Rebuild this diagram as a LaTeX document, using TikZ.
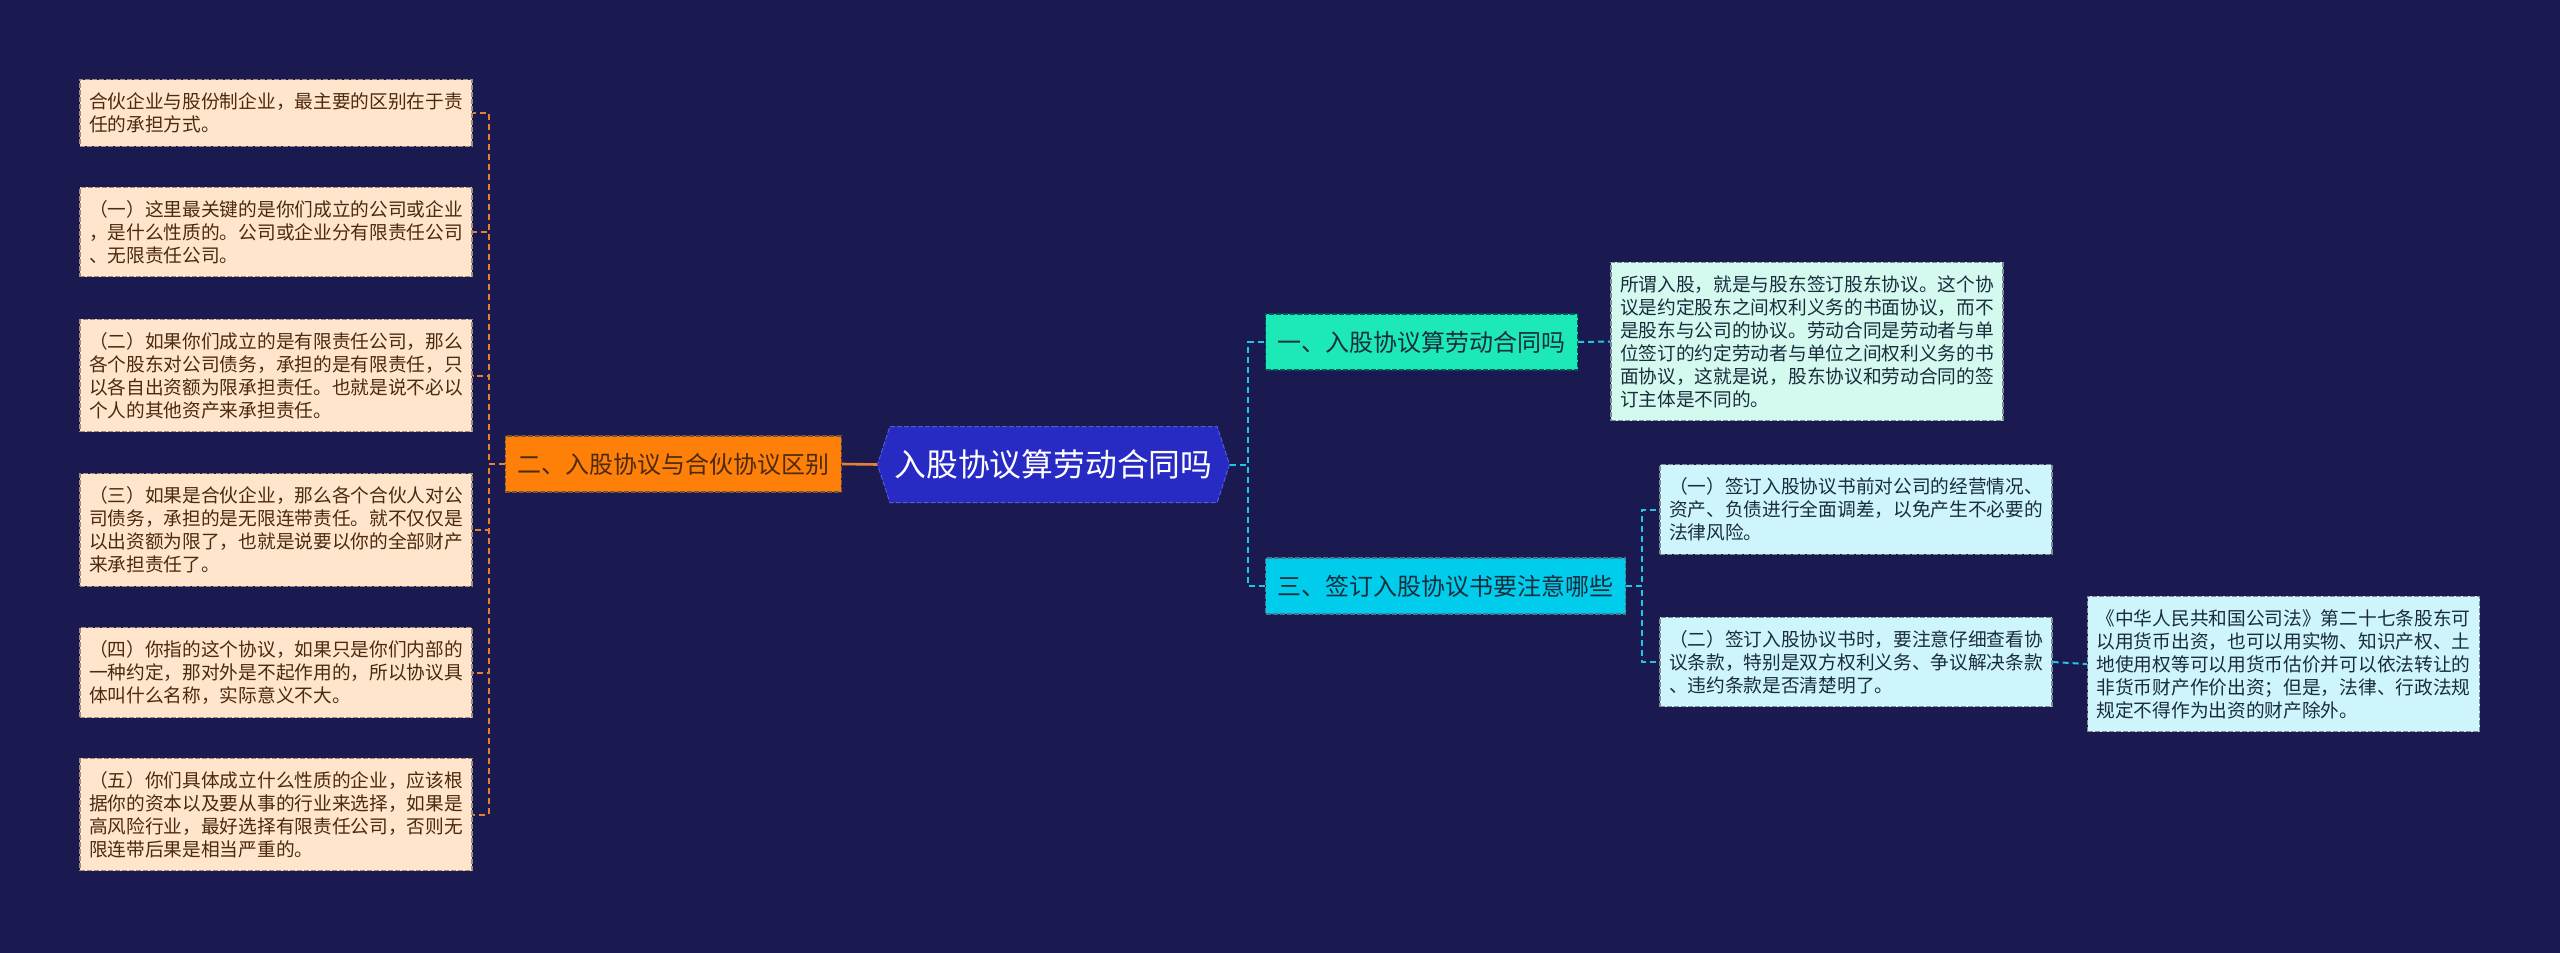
\documentclass[tikz,border=0pt]{standalone}
\usepackage{fontspec}
\setmainfont{Noto Sans CJK SC}
\usepackage{xcolor}
\usepackage{tikz}
\usetikzlibrary{shapes.symbols, calc}

\definecolor{bgnavy}{RGB}{27,26,80}
\definecolor{peach}{RGB}{255,229,204}
\definecolor{peachline}{RGB}{160,140,125}
\definecolor{brownink}{RGB}{75,42,15}
\definecolor{orangebranch}{RGB}{255,128,8}
\definecolor{orangelink}{RGB}{232,128,50}
\definecolor{rootblue}{RGB}{40,42,196}
\definecolor{rootline}{RGB}{80,90,220}
\definecolor{aquabranch}{RGB}{29,233,182}
\definecolor{cyanbranch}{RGB}{0,204,236}
\definecolor{aqualeaf}{RGB}{212,250,240}
\definecolor{cyanleaf}{RGB}{206,244,252}
\definecolor{leafline}{RGB}{125,140,150}
\definecolor{darkink}{RGB}{25,45,60}
\definecolor{cyanlink}{RGB}{30,200,228}

\tikzset{
    leafbase/.style={draw, rectangle, dash pattern=on 5pt off 2pt, line width=1.2pt, text width=374pt, inner xsep=9pt, inner ysep=13pt, align=left, font=\fontsize{18.7}{23}\selectfont},
    leftleaf/.style={leafbase, fill=peach, draw=peachline, text=brownink},
    rightleaf/.style={leafbase, fill=cyanleaf, draw=leafline, text=darkink},
    branch/.style={draw, rectangle, dash pattern=on 5pt off 2pt, line width=1.2pt, minimum height=56pt, inner xsep=12pt, font=\fontsize{24}{28}\selectfont},
    rootnode/.style={signal, signal to=west and east, signal pointer angle=144, fill=rootblue, draw=rootline, dash pattern=on 5pt off 2pt, line width=1pt, minimum width=352pt, minimum height=76pt, text=white, font=\fontsize{31.8}{36}\selectfont},
    leftlink/.style={draw=orangelink, line width=2pt, dash pattern=on 6pt off 4pt},
    rightlink/.style={draw=cyanlink, line width=2pt, dash pattern=on 6pt off 4pt}
}

\begin{document}
\begin{tikzpicture}[x=1pt, y=-1pt]
        % Canvas
        \fill[bgnavy] (0,0) rectangle (2560,953);
        \useasboundingbox (0,0) rectangle (2560,953);

        % Root and first level
        \node[rootnode] (root) at (1053.5,464.5) {入股协议算劳动合同吗};
        \node[branch, fill=orangebranch, draw=brownink!80, text=brownink, anchor=east] (diff) at (842,464) {二、入股协议与合伙协议区别};
        \node[branch, fill=aquabranch, draw=teal!70!black, text=darkink, anchor=west] (labor) at (1265,342) {一、入股协议算劳动合同吗};
        \node[branch, fill=cyanbranch, draw=cyan!50!black, text=darkink, anchor=west] (notes) at (1265,586) {三、签订入股协议书要注意哪些};

        % Left leaves
        \foreach \n/\y/\txt in {
            la/113/{合伙企业与股份制企业，最主要的区别在于责\\任的承担方式。},
            lb/232/{（一）这里最关键的是你们成立的公司或企业\\，是什么性质的。公司或企业分有限责任公司\\、无限责任公司。},
            lc/375.5/{（二）如果你们成立的是有限责任公司，那么\\各个股东对公司债务，承担的是有限责任，只\\以各自出资额为限承担责任。也就是说不必以\\个人的其他资产来承担责任。},
            ld/530/{（三）如果是合伙企业，那么各个合伙人对公\\司债务，承担的是无限连带责任。就不仅仅是\\以出资额为限了，也就是说要以你的全部财产\\来承担责任了。},
            le/672.5/{（四）你指的这个协议，如果只是你们内部的\\一种约定，那对外是不起作用的，所以协议具\\体叫什么名称，实际意义不大。},
            lf/814.5/{（五）你们具体成立什么性质的企业，应该根\\据你的资本以及要从事的行业来选择，如果是\\高风险行业，最好选择有限责任公司，否则无\\限连带后果是相当严重的。}} {
            \node[leftleaf] (\n) at (276,\y) {\txt};
        }

        % Right leaves
        \node[rightleaf, fill=aqualeaf] (ra) at (1807,341.5) {所谓入股，就是与股东签订股东协议。这个协\\议是约定股东之间权利义务的书面协议，而不\\是股东与公司的协议。劳动合同是劳动者与单\\位签订的约定劳动者与单位之间权利义务的书\\面协议，这就是说，股东协议和劳动合同的签\\订主体是不同的。};
        \node[rightleaf] (rb) at (1856,509.5) {（一）签订入股协议书前对公司的经营情况、\\资产、负债进行全面调差，以免产生不必要的\\法律风险。};
        \node[rightleaf] (rc) at (1856,662) {（二）签订入股协议书时，要注意仔细查看协\\议条款，特别是双方权利义务、争议解决条款\\、违约条款是否清楚明了。};
        \node[rightleaf] (rd) at (2283.5,664) {《中华人民共和国公司法》第二十七条股东可\\以用货币出资，也可以用实物、知识产权、土\\地使用权等可以用货币估价并可以依法转让的\\非货币财产作价出资；但是，法律、行政法规\\规定不得作为出资的财产除外。};

        % Connectors
        \draw[leftlink, solid, line width=2.6pt] (root.west) -- (diff.east);
        \foreach \n in {la, lb, lc, ld, le, lf} {
            \draw[leftlink] (diff.west) -- ++(-16,0) |- (\n.east);
        }
        \draw[rightlink] (root.east) -- ++(18,0) |- (labor.west);
        \draw[rightlink] (root.east) -- ++(18,0) |- (notes.west);
        \draw[rightlink] (labor.east) -- (ra.west);
        \draw[rightlink] (notes.east) -- ++(16,0) |- (rb.west);
        \draw[rightlink] (notes.east) -- ++(16,0) |- (rc.west);
        \draw[rightlink] (rc.east) -- (rd.west);
    \end{tikzpicture}
\end{document}
